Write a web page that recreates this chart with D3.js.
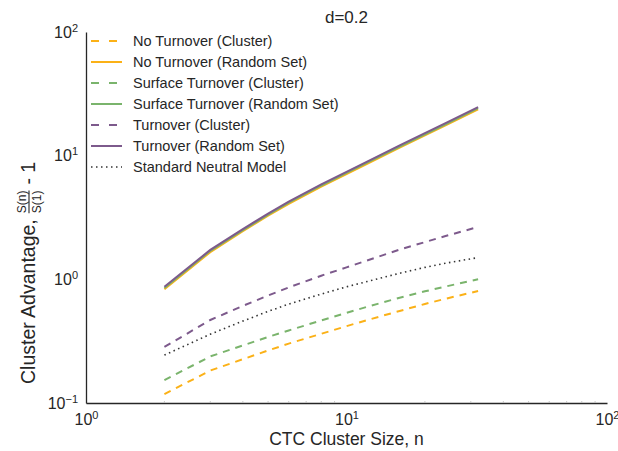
<!DOCTYPE html>
<html>
<head>
<meta charset="utf-8">
<script src="https://cdn.jsdelivr.net/npm/d3@7"></script>
<style>
  body { margin: 0; background: #fff; }
  svg text { font-family: "Liberation Sans", Arial, sans-serif; fill: #262626; }
</style>
</head>
<body>
<svg width="618" height="451"></svg>
<script>
// cluster sizes n
const nValues = [2, 3, 4, 5, 6, 8, 10, 12, 16, 20, 24, 32];

// S(n)/S(1) - 1
const noTurnoverCluster   = [0.118, 0.183, 0.226, 0.266, 0.302, 0.363, 0.418, 0.468, 0.555, 0.632, 0.697, 0.804];
const noTurnoverRandom    = [0.83, 1.66, 2.45, 3.27, 4.08, 5.62, 7.1, 8.6, 11.6, 14.6, 17.55, 23.7];
const surfaceCluster      = [0.153, 0.238, 0.292, 0.342, 0.386, 0.465, 0.535, 0.600, 0.710, 0.800, 0.875, 1.00];
const surfaceRandom       = [0.85, 1.70, 2.50, 3.33, 4.17, 5.74, 7.25, 8.8, 11.85, 14.9, 17.9, 24.2];
const turnoverCluster     = [0.284, 0.469, 0.610, 0.740, 0.860, 1.070, 1.25, 1.42, 1.74, 2.00, 2.24, 2.65];
const turnoverRandom      = [0.87, 1.73, 2.55, 3.40, 4.25, 5.85, 7.40, 8.95, 12.1, 15.2, 18.3, 24.7];
const neutralModel        = [0.244, 0.360, 0.460, 0.550, 0.630, 0.760, 0.870, 0.960, 1.12, 1.25, 1.35, 1.50];

const xTicks = [1, 10, 100];
const yTicks = [0.1, 1, 10, 100];

const yellow = "#fbb117", green = "#7ab46c", purple = "#7d5a8c";

// legend order = draw order in the original
const series = [
  {name: "No Turnover (Cluster)", values: noTurnoverCluster, color: yellow, dash: "7,6"},
  {name: "No Turnover (Random Set)", values: noTurnoverRandom, color: yellow, dash: null},
  {name: "Surface Turnover (Cluster)", values: surfaceCluster, color: green, dash: "7,6"},
  {name: "Surface Turnover (Random Set)", values: surfaceRandom, color: green, dash: null},
  {name: "Turnover (Cluster)", values: turnoverCluster, color: purple, dash: "7,6"},
  {name: "Turnover (Random Set)", values: turnoverRandom, color: purple, dash: null},
  {name: "Standard Neutral Model", values: neutralModel, color: "#333", dash: "1.5,3.5", dotted: true}
];

const svg = d3.select("svg");
const margin = {top: 32, right: 11, bottom: 48, left: 86};
const width = +svg.attr("width") - margin.left - margin.right,
      height = +svg.attr("height") - margin.top - margin.bottom;

const x = d3.scaleLog().domain([1, 100]).range([0, width]);
const y = d3.scaleLog().domain([0.1, 100]).range([height, 0]);

const g = svg.append("g")
  .attr("transform", "translate(" + margin.left + "," + margin.top + ")");

// put "10" with a superscript exponent into a tick label
function powerLabel(sel) {
  sel.each(function(d) {
    const t = d3.select(this).text(null);
    t.append("tspan").text("10");
    t.append("tspan").attr("dy", "-0.55em").attr("font-size", "11px")
      .text(Math.round(Math.log10(d)).toString().replace("-", "\u2212"));
  });
}

// x axis
const xAxis = g.append("g")
  .attr("transform", "translate(0," + height + ")")
  .call(d3.axisBottom(x).tickValues(xTicks).tickSize(0).tickPadding(8));
xAxis.select(".domain").attr("stroke", "#262626").attr("stroke-width", 1.3);
xAxis.selectAll(".tick text")
  .attr("font-size", "16px").attr("dy", "0.9em")
  .call(powerLabel);

// tiny minor ticks along the x axis
const minorX = [];
[1, 10].forEach(b => { for (let k = 2; k <= 9; k++) minorX.push(b * k); });
g.append("g").selectAll("line").data(minorX).enter().append("line")
  .attr("x1", d => x(d)).attr("x2", d => x(d))
  .attr("y1", height).attr("y2", height - 2)
  .attr("stroke", "#bbb").attr("stroke-width", 0.8);

// y axis
const yAxis = g.append("g")
  .call(d3.axisLeft(y).tickValues(yTicks).tickSize(0).tickPadding(8));
yAxis.select(".domain").attr("stroke", "#262626").attr("stroke-width", 1.3);
yAxis.selectAll(".tick text")
  .attr("font-size", "16px")
  .call(powerLabel);

// lines
const line = d3.line()
  .x((d, i) => x(nValues[i]))
  .y(d => y(d));

g.selectAll(".series")
  .data(series)
  .enter().append("path")
    .attr("class", "series")
    .attr("d", d => line(d.values))
    .attr("fill", "none")
    .attr("stroke", d => d.color)
    .attr("stroke-width", d => d.dotted ? 1.6 : 2)
    .attr("stroke-dasharray", d => d.dash);

// legend
const legend = svg.append("g").attr("transform", "translate(91,41)");
const rows = legend.selectAll("g").data(series).enter().append("g")
  .attr("transform", (d, i) => "translate(0," + i * 21 + ")");
rows.append("line")
  .attr("x1", 0).attr("x2", 31).attr("y1", 0).attr("y2", 0)
  .attr("stroke", d => d.color)
  .attr("stroke-width", d => d.dotted ? 1.6 : 2)
  .attr("stroke-dasharray", d => d.dotted ? "1.5,3.5" : (d.dash ? "8,10" : null));
rows.append("text")
  .attr("x", 42).attr("dy", "0.35em")
  .attr("font-size", "14.5px")
  .text(d => d.name);

// title
svg.append("text")
  .attr("x", margin.left + width / 2).attr("y", 23)
  .attr("text-anchor", "middle").attr("font-size", "17px")
  .text("d=0.2");

// x label
svg.append("text")
  .attr("x", margin.left + width / 2).attr("y", 445)
  .attr("text-anchor", "middle").attr("font-size", "17.5px")
  .text("CTC Cluster Size, n");

// y label with the fraction S(n)/S(1)
const yl = svg.append("g").attr("transform", "translate(35,384) rotate(-90)");
const part1 = yl.append("text").attr("x", 0).attr("y", 0).attr("font-size", "19.5px")
  .text("Cluster Advantage,");
const w1 = part1.node().getComputedTextLength() + 6;
const num = yl.append("text").attr("y", -9).attr("font-size", "12px")
  .attr("text-anchor", "middle").text("S(n)");
const den = yl.append("text").attr("y", 6).attr("font-size", "12px")
  .attr("text-anchor", "middle").text("S(1)");
const fw = Math.max(num.node().getComputedTextLength(), den.node().getComputedTextLength());
num.attr("x", w1 + fw / 2);
den.attr("x", w1 + fw / 2);
yl.append("line")
  .attr("x1", w1).attr("x2", w1 + fw).attr("y1", -6).attr("y2", -6)
  .attr("stroke", "#262626").attr("stroke-width", 1.1);
yl.append("text").attr("x", w1 + fw + 6).attr("y", 0).attr("font-size", "19.5px")
  .text("- 1");
</script>
</body>
</html>
